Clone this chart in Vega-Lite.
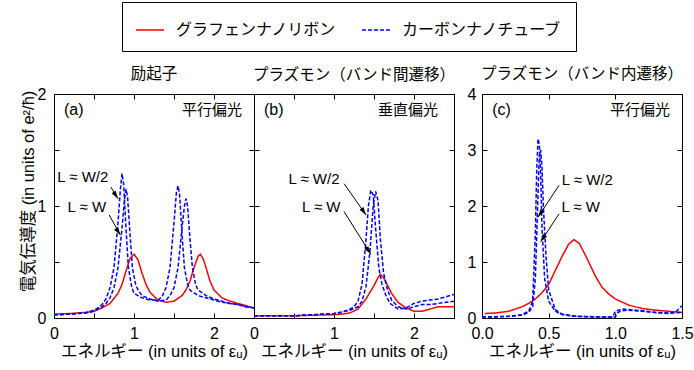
{
  "$schema": "https://vega.github.io/schema/vega-lite/v6.json",
  "background": "white",
  "padding": {"left": 19, "top": 1, "right": 3, "bottom": 3},
  "config": {
    "view": {"stroke": "black", "strokeWidth": 1},
    "axis": {"grid": false, "domain": false, "tickSize": -5, "tickColor": "black", "tickWidth": 1, "labelFlush": false,
      "labelFont": "Liberation Sans", "labelFontSize": 16, "labelColor": "black",
      "titleFont": "Liberation Sans, Noto Sans CJK JP", "titleFontSize": 16.5, "titleFontWeight": "normal", "titleColor": "black"},
    "axisX": {"labelPadding": 12, "titlePadding": 2},
    "axisY": {"labelPadding": 13, "titlePadding": 1, "titleY": 97},
    "title": {"font": "Noto Sans CJK JP", "fontSize": 15.5, "fontWeight": "normal", "color": "black", "anchor": "middle", "frame": "group"},
    "text": {"font": "Liberation Sans, Noto Sans CJK JP", "fontSize": 15, "color": "black"}
  },
  "datasets": {
    "curves": [
      {"panel":"a","curve":"r","series":"グラフェンナノリボン","x":0,"y":0.035},
      {"panel":"a","curve":"r","series":"グラフェンナノリボン","x":0.2,"y":0.04},
      {"panel":"a","curve":"r","series":"グラフェンナノリボン","x":0.4,"y":0.05},
      {"panel":"a","curve":"r","series":"グラフェンナノリボン","x":0.5,"y":0.06},
      {"panel":"a","curve":"r","series":"グラフェンナノリボン","x":0.6,"y":0.09},
      {"panel":"a","curve":"r","series":"グラフェンナノリボン","x":0.7,"y":0.13},
      {"panel":"a","curve":"r","series":"グラフェンナノリボン","x":0.8,"y":0.22},
      {"panel":"a","curve":"r","series":"グラフェンナノリボン","x":0.85,"y":0.3},
      {"panel":"a","curve":"r","series":"グラフェンナノリボン","x":0.9,"y":0.42},
      {"panel":"a","curve":"r","series":"グラフェンナノリボン","x":0.95,"y":0.53},
      {"panel":"a","curve":"r","series":"グラフェンナノリボン","x":1.0,"y":0.57},
      {"panel":"a","curve":"r","series":"グラフェンナノリボン","x":1.05,"y":0.52},
      {"panel":"a","curve":"r","series":"グラフェンナノリボン","x":1.1,"y":0.4},
      {"panel":"a","curve":"r","series":"グラフェンナノリボン","x":1.15,"y":0.3},
      {"panel":"a","curve":"r","series":"グラフェンナノリボン","x":1.2,"y":0.23},
      {"panel":"a","curve":"r","series":"グラフェンナノリボン","x":1.3,"y":0.16},
      {"panel":"a","curve":"r","series":"グラフェンナノリボン","x":1.4,"y":0.14},
      {"panel":"a","curve":"r","series":"グラフェンナノリボン","x":1.5,"y":0.15},
      {"panel":"a","curve":"r","series":"グラフェンナノリボン","x":1.6,"y":0.2},
      {"panel":"a","curve":"r","series":"グラフェンナノリボン","x":1.65,"y":0.25},
      {"panel":"a","curve":"r","series":"グラフェンナノリボン","x":1.7,"y":0.33},
      {"panel":"a","curve":"r","series":"グラフェンナノリボン","x":1.75,"y":0.45},
      {"panel":"a","curve":"r","series":"グラフェンナノリボン","x":1.8,"y":0.55},
      {"panel":"a","curve":"r","series":"グラフェンナノリボン","x":1.83,"y":0.57},
      {"panel":"a","curve":"r","series":"グラフェンナノリボン","x":1.87,"y":0.52},
      {"panel":"a","curve":"r","series":"グラフェンナノリボン","x":1.9,"y":0.45},
      {"panel":"a","curve":"r","series":"グラフェンナノリボン","x":1.95,"y":0.33},
      {"panel":"a","curve":"r","series":"グラフェンナノリボン","x":2.0,"y":0.25},
      {"panel":"a","curve":"r","series":"グラフェンナノリボン","x":2.1,"y":0.18},
      {"panel":"a","curve":"r","series":"グラフェンナノリボン","x":2.2,"y":0.15},
      {"panel":"a","curve":"r","series":"グラフェンナノリボン","x":2.3,"y":0.13},
      {"panel":"a","curve":"r","series":"グラフェンナノリボン","x":2.4,"y":0.11},
      {"panel":"a","curve":"r","series":"グラフェンナノリボン","x":2.5,"y":0.09},

      {"panel":"a","curve":"b1","series":"カーボンナノチューブ","x":0,"y":0.03},
      {"panel":"a","curve":"b1","series":"カーボンナノチューブ","x":0.1,"y":0.03},
      {"panel":"a","curve":"b1","series":"カーボンナノチューブ","x":0.2,"y":0.035},
      {"panel":"a","curve":"b1","series":"カーボンナノチューブ","x":0.3,"y":0.04},
      {"panel":"a","curve":"b1","series":"カーボンナノチューブ","x":0.4,"y":0.05},
      {"panel":"a","curve":"b1","series":"カーボンナノチューブ","x":0.5,"y":0.07},
      {"panel":"a","curve":"b1","series":"カーボンナノチューブ","x":0.55,"y":0.09},
      {"panel":"a","curve":"b1","series":"カーボンナノチューブ","x":0.6,"y":0.12},
      {"panel":"a","curve":"b1","series":"カーボンナノチューブ","x":0.65,"y":0.17},
      {"panel":"a","curve":"b1","series":"カーボンナノチューブ","x":0.7,"y":0.27},
      {"panel":"a","curve":"b1","series":"カーボンナノチューブ","x":0.75,"y":0.45},
      {"panel":"a","curve":"b1","series":"カーボンナノチューブ","x":0.8,"y":0.85},
      {"panel":"a","curve":"b1","series":"カーボンナノチューブ","x":0.83,"y":1.15},
      {"panel":"a","curve":"b1","series":"カーボンナノチューブ","x":0.85,"y":1.29},
      {"panel":"a","curve":"b1","series":"カーボンナノチューブ","x":0.87,"y":1.2},
      {"panel":"a","curve":"b1","series":"カーボンナノチューブ","x":0.9,"y":0.8},
      {"panel":"a","curve":"b1","series":"カーボンナノチューブ","x":0.93,"y":0.45},
      {"panel":"a","curve":"b1","series":"カーボンナノチューブ","x":0.97,"y":0.28},
      {"panel":"a","curve":"b1","series":"カーボンナノチューブ","x":1.0,"y":0.22},
      {"panel":"a","curve":"b1","series":"カーボンナノチューブ","x":1.05,"y":0.2},
      {"panel":"a","curve":"b1","series":"カーボンナノチューブ","x":1.1,"y":0.18},
      {"panel":"a","curve":"b1","series":"カーボンナノチューブ","x":1.2,"y":0.16},
      {"panel":"a","curve":"b1","series":"カーボンナノチューブ","x":1.3,"y":0.16},
      {"panel":"a","curve":"b1","series":"カーボンナノチューブ","x":1.35,"y":0.19},
      {"panel":"a","curve":"b1","series":"カーボンナノチューブ","x":1.4,"y":0.27},
      {"panel":"a","curve":"b1","series":"カーボンナノチューブ","x":1.45,"y":0.45},
      {"panel":"a","curve":"b1","series":"カーボンナノチューブ","x":1.5,"y":0.85},
      {"panel":"a","curve":"b1","series":"カーボンナノチューブ","x":1.53,"y":1.12},
      {"panel":"a","curve":"b1","series":"カーボンナノチューブ","x":1.55,"y":1.18},
      {"panel":"a","curve":"b1","series":"カーボンナノチューブ","x":1.57,"y":1.1},
      {"panel":"a","curve":"b1","series":"カーボンナノチューブ","x":1.6,"y":0.75},
      {"panel":"a","curve":"b1","series":"カーボンナノチューブ","x":1.63,"y":0.45},
      {"panel":"a","curve":"b1","series":"カーボンナノチューブ","x":1.67,"y":0.3},
      {"panel":"a","curve":"b1","series":"カーボンナノチューブ","x":1.7,"y":0.25},
      {"panel":"a","curve":"b1","series":"カーボンナノチューブ","x":1.8,"y":0.2},
      {"panel":"a","curve":"b1","series":"カーボンナノチューブ","x":1.9,"y":0.18},
      {"panel":"a","curve":"b1","series":"カーボンナノチューブ","x":2.0,"y":0.16},
      {"panel":"a","curve":"b1","series":"カーボンナノチューブ","x":2.1,"y":0.14},
      {"panel":"a","curve":"b1","series":"カーボンナノチューブ","x":2.2,"y":0.13},
      {"panel":"a","curve":"b1","series":"カーボンナノチューブ","x":2.3,"y":0.12},
      {"panel":"a","curve":"b1","series":"カーボンナノチューブ","x":2.4,"y":0.1},
      {"panel":"a","curve":"b1","series":"カーボンナノチューブ","x":2.5,"y":0.09},

      {"panel":"a","curve":"b2","series":"カーボンナノチューブ","x":0,"y":0.03},
      {"panel":"a","curve":"b2","series":"カーボンナノチューブ","x":0.2,"y":0.035},
      {"panel":"a","curve":"b2","series":"カーボンナノチューブ","x":0.4,"y":0.045},
      {"panel":"a","curve":"b2","series":"カーボンナノチューブ","x":0.5,"y":0.06},
      {"panel":"a","curve":"b2","series":"カーボンナノチューブ","x":0.6,"y":0.1},
      {"panel":"a","curve":"b2","series":"カーボンナノチューブ","x":0.65,"y":0.13},
      {"panel":"a","curve":"b2","series":"カーボンナノチューブ","x":0.7,"y":0.18},
      {"panel":"a","curve":"b2","series":"カーボンナノチューブ","x":0.75,"y":0.27},
      {"panel":"a","curve":"b2","series":"カーボンナノチューブ","x":0.8,"y":0.45},
      {"panel":"a","curve":"b2","series":"カーボンナノチューブ","x":0.85,"y":0.8},
      {"panel":"a","curve":"b2","series":"カーボンナノチューブ","x":0.88,"y":1.05},
      {"panel":"a","curve":"b2","series":"カーボンナノチューブ","x":0.9,"y":1.15},
      {"panel":"a","curve":"b2","series":"カーボンナノチューブ","x":0.92,"y":1.08},
      {"panel":"a","curve":"b2","series":"カーボンナノチューブ","x":0.95,"y":0.75},
      {"panel":"a","curve":"b2","series":"カーボンナノチューブ","x":0.98,"y":0.45},
      {"panel":"a","curve":"b2","series":"カーボンナノチューブ","x":1.02,"y":0.3},
      {"panel":"a","curve":"b2","series":"カーボンナノチューブ","x":1.05,"y":0.25},
      {"panel":"a","curve":"b2","series":"カーボンナノチューブ","x":1.1,"y":0.2},
      {"panel":"a","curve":"b2","series":"カーボンナノチューブ","x":1.2,"y":0.17},
      {"panel":"a","curve":"b2","series":"カーボンナノチューブ","x":1.3,"y":0.15},
      {"panel":"a","curve":"b2","series":"カーボンナノチューブ","x":1.4,"y":0.16},
      {"panel":"a","curve":"b2","series":"カーボンナノチューブ","x":1.45,"y":0.2},
      {"panel":"a","curve":"b2","series":"カーボンナノチューブ","x":1.5,"y":0.27},
      {"panel":"a","curve":"b2","series":"カーボンナノチューブ","x":1.55,"y":0.45},
      {"panel":"a","curve":"b2","series":"カーボンナノチューブ","x":1.6,"y":0.8},
      {"panel":"a","curve":"b2","series":"カーボンナノチューブ","x":1.63,"y":1.0},
      {"panel":"a","curve":"b2","series":"カーボンナノチューブ","x":1.65,"y":1.065},
      {"panel":"a","curve":"b2","series":"カーボンナノチューブ","x":1.67,"y":1.0},
      {"panel":"a","curve":"b2","series":"カーボンナノチューブ","x":1.7,"y":0.7},
      {"panel":"a","curve":"b2","series":"カーボンナノチューブ","x":1.73,"y":0.45},
      {"panel":"a","curve":"b2","series":"カーボンナノチューブ","x":1.77,"y":0.3},
      {"panel":"a","curve":"b2","series":"カーボンナノチューブ","x":1.8,"y":0.25},
      {"panel":"a","curve":"b2","series":"カーボンナノチューブ","x":1.9,"y":0.2},
      {"panel":"a","curve":"b2","series":"カーボンナノチューブ","x":2.0,"y":0.17},
      {"panel":"a","curve":"b2","series":"カーボンナノチューブ","x":2.1,"y":0.15},
      {"panel":"a","curve":"b2","series":"カーボンナノチューブ","x":2.2,"y":0.13},
      {"panel":"a","curve":"b2","series":"カーボンナノチューブ","x":2.3,"y":0.12},
      {"panel":"a","curve":"b2","series":"カーボンナノチューブ","x":2.4,"y":0.1},
      {"panel":"a","curve":"b2","series":"カーボンナノチューブ","x":2.5,"y":0.09},

      {"panel":"b","curve":"r","series":"グラフェンナノリボン","x":0,"y":0.02},
      {"panel":"b","curve":"r","series":"グラフェンナノリボン","x":0.5,"y":0.02},
      {"panel":"b","curve":"r","series":"グラフェンナノリボン","x":1.0,"y":0.03},
      {"panel":"b","curve":"r","series":"グラフェンナノリボン","x":1.1,"y":0.035},
      {"panel":"b","curve":"r","series":"グラフェンナノリボン","x":1.2,"y":0.045},
      {"panel":"b","curve":"r","series":"グラフェンナノリボン","x":1.3,"y":0.08},
      {"panel":"b","curve":"r","series":"グラフェンナノリボン","x":1.4,"y":0.17},
      {"panel":"b","curve":"r","series":"グラフェンナノリボン","x":1.5,"y":0.29},
      {"panel":"b","curve":"r","series":"グラフェンナノリボン","x":1.55,"y":0.36},
      {"panel":"b","curve":"r","series":"グラフェンナノリボン","x":1.58,"y":0.39},
      {"panel":"b","curve":"r","series":"グラフェンナノリボン","x":1.62,"y":0.36},
      {"panel":"b","curve":"r","series":"グラフェンナノリボン","x":1.67,"y":0.29},
      {"panel":"b","curve":"r","series":"グラフェンナノリボン","x":1.72,"y":0.22},
      {"panel":"b","curve":"r","series":"グラフェンナノリボン","x":1.8,"y":0.14},
      {"panel":"b","curve":"r","series":"グラフェンナノリボン","x":1.9,"y":0.09},
      {"panel":"b","curve":"r","series":"グラフェンナノリボン","x":2.0,"y":0.06},
      {"panel":"b","curve":"r","series":"グラフェンナノリボン","x":2.1,"y":0.06},
      {"panel":"b","curve":"r","series":"グラフェンナノリボン","x":2.2,"y":0.08},
      {"panel":"b","curve":"r","series":"グラフェンナノリボン","x":2.3,"y":0.1},
      {"panel":"b","curve":"r","series":"グラフェンナノリボン","x":2.4,"y":0.1},
      {"panel":"b","curve":"r","series":"グラフェンナノリボン","x":2.5,"y":0.1},

      {"panel":"b","curve":"b1","series":"カーボンナノチューブ","x":0,"y":0.02},
      {"panel":"b","curve":"b1","series":"カーボンナノチューブ","x":0.5,"y":0.02},
      {"panel":"b","curve":"b1","series":"カーボンナノチューブ","x":1.0,"y":0.04},
      {"panel":"b","curve":"b1","series":"カーボンナノチューブ","x":1.1,"y":0.05},
      {"panel":"b","curve":"b1","series":"カーボンナノチューブ","x":1.2,"y":0.08},
      {"panel":"b","curve":"b1","series":"カーボンナノチューブ","x":1.25,"y":0.1},
      {"panel":"b","curve":"b1","series":"カーボンナノチューブ","x":1.3,"y":0.15},
      {"panel":"b","curve":"b1","series":"カーボンナノチューブ","x":1.35,"y":0.3},
      {"panel":"b","curve":"b1","series":"カーボンナノチューブ","x":1.4,"y":0.7},
      {"panel":"b","curve":"b1","series":"カーボンナノチューブ","x":1.43,"y":1.0},
      {"panel":"b","curve":"b1","series":"カーボンナノチューブ","x":1.46,"y":1.14},
      {"panel":"b","curve":"b1","series":"カーボンナノチューブ","x":1.49,"y":1.1},
      {"panel":"b","curve":"b1","series":"カーボンナノチューブ","x":1.52,"y":0.8},
      {"panel":"b","curve":"b1","series":"カーボンナノチューブ","x":1.56,"y":0.45},
      {"panel":"b","curve":"b1","series":"カーボンナノチューブ","x":1.6,"y":0.3},
      {"panel":"b","curve":"b1","series":"カーボンナノチューブ","x":1.65,"y":0.2},
      {"panel":"b","curve":"b1","series":"カーボンナノチューブ","x":1.7,"y":0.13},
      {"panel":"b","curve":"b1","series":"カーボンナノチューブ","x":1.8,"y":0.08},
      {"panel":"b","curve":"b1","series":"カーボンナノチューブ","x":1.9,"y":0.09},
      {"panel":"b","curve":"b1","series":"カーボンナノチューブ","x":2.0,"y":0.13},
      {"panel":"b","curve":"b1","series":"カーボンナノチューブ","x":2.1,"y":0.15},
      {"panel":"b","curve":"b1","series":"カーボンナノチューブ","x":2.2,"y":0.16},
      {"panel":"b","curve":"b1","series":"カーボンナノチューブ","x":2.3,"y":0.17},
      {"panel":"b","curve":"b1","series":"カーボンナノチューブ","x":2.4,"y":0.19},
      {"panel":"b","curve":"b1","series":"カーボンナノチューブ","x":2.5,"y":0.21},

      {"panel":"b","curve":"b2","series":"カーボンナノチューブ","x":0,"y":0.02},
      {"panel":"b","curve":"b2","series":"カーボンナノチューブ","x":0.5,"y":0.02},
      {"panel":"b","curve":"b2","series":"カーボンナノチューブ","x":1.0,"y":0.04},
      {"panel":"b","curve":"b2","series":"カーボンナノチューブ","x":1.2,"y":0.07},
      {"panel":"b","curve":"b2","series":"カーボンナノチューブ","x":1.3,"y":0.1},
      {"panel":"b","curve":"b2","series":"カーボンナノチューブ","x":1.35,"y":0.15},
      {"panel":"b","curve":"b2","series":"カーボンナノチューブ","x":1.4,"y":0.28},
      {"panel":"b","curve":"b2","series":"カーボンナノチューブ","x":1.45,"y":0.6},
      {"panel":"b","curve":"b2","series":"カーボンナノチューブ","x":1.49,"y":1.0},
      {"panel":"b","curve":"b2","series":"カーボンナノチューブ","x":1.52,"y":1.13},
      {"panel":"b","curve":"b2","series":"カーボンナノチューブ","x":1.55,"y":1.05},
      {"panel":"b","curve":"b2","series":"カーボンナノチューブ","x":1.58,"y":0.7},
      {"panel":"b","curve":"b2","series":"カーボンナノチューブ","x":1.62,"y":0.4},
      {"panel":"b","curve":"b2","series":"カーボンナノチューブ","x":1.67,"y":0.25},
      {"panel":"b","curve":"b2","series":"カーボンナノチューブ","x":1.72,"y":0.16},
      {"panel":"b","curve":"b2","series":"カーボンナノチューブ","x":1.8,"y":0.1},
      {"panel":"b","curve":"b2","series":"カーボンナノチューブ","x":1.9,"y":0.08},
      {"panel":"b","curve":"b2","series":"カーボンナノチューブ","x":2.0,"y":0.1},
      {"panel":"b","curve":"b2","series":"カーボンナノチューブ","x":2.1,"y":0.12},
      {"panel":"b","curve":"b2","series":"カーボンナノチューブ","x":2.2,"y":0.12},
      {"panel":"b","curve":"b2","series":"カーボンナノチューブ","x":2.3,"y":0.13},
      {"panel":"b","curve":"b2","series":"カーボンナノチューブ","x":2.4,"y":0.14},
      {"panel":"b","curve":"b2","series":"カーボンナノチューブ","x":2.5,"y":0.15},

      {"panel":"c","curve":"r","series":"グラフェンナノリボン","x":0.02,"y":0.08},
      {"panel":"c","curve":"r","series":"グラフェンナノリボン","x":0.1,"y":0.09},
      {"panel":"c","curve":"r","series":"グラフェンナノリボン","x":0.2,"y":0.12},
      {"panel":"c","curve":"r","series":"グラフェンナノリボン","x":0.3,"y":0.2},
      {"panel":"c","curve":"r","series":"グラフェンナノリボン","x":0.35,"y":0.26},
      {"panel":"c","curve":"r","series":"グラフェンナノリボン","x":0.4,"y":0.34},
      {"panel":"c","curve":"r","series":"グラフェンナノリボン","x":0.45,"y":0.45},
      {"panel":"c","curve":"r","series":"グラフェンナノリボン","x":0.5,"y":0.6},
      {"panel":"c","curve":"r","series":"グラフェンナノリボン","x":0.55,"y":0.85},
      {"panel":"c","curve":"r","series":"グラフェンナノリボン","x":0.6,"y":1.1},
      {"panel":"c","curve":"r","series":"グラフェンナノリボン","x":0.65,"y":1.32},
      {"panel":"c","curve":"r","series":"グラフェンナノリボン","x":0.69,"y":1.4},
      {"panel":"c","curve":"r","series":"グラフェンナノリボン","x":0.73,"y":1.33},
      {"panel":"c","curve":"r","series":"グラフェンナノリボン","x":0.78,"y":1.1},
      {"panel":"c","curve":"r","series":"グラフェンナノリボン","x":0.85,"y":0.75},
      {"panel":"c","curve":"r","series":"グラフェンナノリボン","x":0.9,"y":0.55},
      {"panel":"c","curve":"r","series":"グラフェンナノリボン","x":0.95,"y":0.43},
      {"panel":"c","curve":"r","series":"グラフェンナノリボン","x":1.0,"y":0.34},
      {"panel":"c","curve":"r","series":"グラフェンナノリボン","x":1.1,"y":0.23},
      {"panel":"c","curve":"r","series":"グラフェンナノリボン","x":1.2,"y":0.17},
      {"panel":"c","curve":"r","series":"グラフェンナノリボン","x":1.3,"y":0.14},
      {"panel":"c","curve":"r","series":"グラフェンナノリボン","x":1.4,"y":0.12},
      {"panel":"c","curve":"r","series":"グラフェンナノリボン","x":1.5,"y":0.1},

      {"panel":"c","curve":"b1","series":"カーボンナノチューブ","x":0.0,"y":0.02},
      {"panel":"c","curve":"b1","series":"カーボンナノチューブ","x":0.1,"y":0.02},
      {"panel":"c","curve":"b1","series":"カーボンナノチューブ","x":0.2,"y":0.03},
      {"panel":"c","curve":"b1","series":"カーボンナノチューブ","x":0.3,"y":0.06},
      {"panel":"c","curve":"b1","series":"カーボンナノチューブ","x":0.35,"y":0.12},
      {"panel":"c","curve":"b1","series":"カーボンナノチューブ","x":0.38,"y":0.3},
      {"panel":"c","curve":"b1","series":"カーボンナノチューブ","x":0.4,"y":1.5},
      {"panel":"c","curve":"b1","series":"カーボンナノチューブ","x":0.41,"y":2.6},
      {"panel":"c","curve":"b1","series":"カーボンナノチューブ","x":0.42,"y":3.2},
      {"panel":"c","curve":"b1","series":"カーボンナノチューブ","x":0.43,"y":3.1},
      {"panel":"c","curve":"b1","series":"カーボンナノチューブ","x":0.44,"y":2.6},
      {"panel":"c","curve":"b1","series":"カーボンナノチューブ","x":0.45,"y":1.6},
      {"panel":"c","curve":"b1","series":"カーボンナノチューブ","x":0.47,"y":0.7},
      {"panel":"c","curve":"b1","series":"カーボンナノチューブ","x":0.5,"y":0.3},
      {"panel":"c","curve":"b1","series":"カーボンナノチューブ","x":0.55,"y":0.12},
      {"panel":"c","curve":"b1","series":"カーボンナノチューブ","x":0.6,"y":0.06},
      {"panel":"c","curve":"b1","series":"カーボンナノチューブ","x":0.7,"y":0.03},
      {"panel":"c","curve":"b1","series":"カーボンナノチューブ","x":0.8,"y":0.02},
      {"panel":"c","curve":"b1","series":"カーボンナノチューブ","x":0.9,"y":0.02},
      {"panel":"c","curve":"b1","series":"カーボンナノチューブ","x":0.98,"y":0.02},
      {"panel":"c","curve":"b1","series":"カーボンナノチューブ","x":1.0,"y":0.12},
      {"panel":"c","curve":"b1","series":"カーボンナノチューブ","x":1.05,"y":0.16},
      {"panel":"c","curve":"b1","series":"カーボンナノチューブ","x":1.1,"y":0.15},
      {"panel":"c","curve":"b1","series":"カーボンナノチューブ","x":1.2,"y":0.13},
      {"panel":"c","curve":"b1","series":"カーボンナノチューブ","x":1.3,"y":0.1},
      {"panel":"c","curve":"b1","series":"カーボンナノチューブ","x":1.4,"y":0.08},
      {"panel":"c","curve":"b1","series":"カーボンナノチューブ","x":1.45,"y":0.1},
      {"panel":"c","curve":"b1","series":"カーボンナノチューブ","x":1.5,"y":0.22},

      {"panel":"c","curve":"b2","series":"カーボンナノチューブ","x":0.0,"y":0.02},
      {"panel":"c","curve":"b2","series":"カーボンナノチューブ","x":0.2,"y":0.03},
      {"panel":"c","curve":"b2","series":"カーボンナノチューブ","x":0.3,"y":0.05},
      {"panel":"c","curve":"b2","series":"カーボンナノチューブ","x":0.35,"y":0.1},
      {"panel":"c","curve":"b2","series":"カーボンナノチューブ","x":0.38,"y":0.2},
      {"panel":"c","curve":"b2","series":"カーボンナノチューブ","x":0.4,"y":0.7},
      {"panel":"c","curve":"b2","series":"カーボンナノチューブ","x":0.42,"y":2.2},
      {"panel":"c","curve":"b2","series":"カーボンナノチューブ","x":0.43,"y":2.9},
      {"panel":"c","curve":"b2","series":"カーボンナノチューブ","x":0.44,"y":3.0},
      {"panel":"c","curve":"b2","series":"カーボンナノチューブ","x":0.45,"y":2.7},
      {"panel":"c","curve":"b2","series":"カーボンナノチューブ","x":0.46,"y":2.0},
      {"panel":"c","curve":"b2","series":"カーボンナノチューブ","x":0.48,"y":1.1},
      {"panel":"c","curve":"b2","series":"カーボンナノチューブ","x":0.5,"y":0.5},
      {"panel":"c","curve":"b2","series":"カーボンナノチューブ","x":0.55,"y":0.15},
      {"panel":"c","curve":"b2","series":"カーボンナノチューブ","x":0.6,"y":0.07},
      {"panel":"c","curve":"b2","series":"カーボンナノチューブ","x":0.7,"y":0.03},
      {"panel":"c","curve":"b2","series":"カーボンナノチューブ","x":0.9,"y":0.02},
      {"panel":"c","curve":"b2","series":"カーボンナノチューブ","x":1.0,"y":0.02},
      {"panel":"c","curve":"b2","series":"カーボンナノチューブ","x":1.02,"y":0.1},
      {"panel":"c","curve":"b2","series":"カーボンナノチューブ","x":1.05,"y":0.13},
      {"panel":"c","curve":"b2","series":"カーボンナノチューブ","x":1.1,"y":0.14},
      {"panel":"c","curve":"b2","series":"カーボンナノチューブ","x":1.2,"y":0.12},
      {"panel":"c","curve":"b2","series":"カーボンナノチューブ","x":1.3,"y":0.1},
      {"panel":"c","curve":"b2","series":"カーボンナノチューブ","x":1.4,"y":0.09},
      {"panel":"c","curve":"b2","series":"カーボンナノチューブ","x":1.5,"y":0.1}
    ],
    "arrows": [
      {"panel":"a","x":0.71,"y":1.17,"x2":0.80,"y2":1.065},
      {"panel":"a","x":0.69,"y":0.92,"x2":0.83,"y2":0.74},
      {"panel":"b","x":1.125,"y":1.2,"x2":1.40,"y2":0.92},
      {"panel":"b","x":1.125,"y":0.95,"x2":1.46,"y2":0.57},
      {"panel":"c","x":0.578,"y":2.37,"x2":0.42,"y2":1.80},
      {"panel":"c","x":0.578,"y":1.86,"x2":0.44,"y2":1.36}
    ],
    "notes": [
      {"panel":"a","x":0.36,"y":1.26,"text":"L ≈ W/2"},
      {"panel":"a","x":0.41,"y":0.99,"text":"L ≈ W"},
      {"panel":"b","x":0.75,"y":1.24,"text":"L ≈ W/2"},
      {"panel":"b","x":0.84,"y":0.99,"text":"L ≈ W"},
      {"panel":"c","x":0.79,"y":2.46,"text":"L ≈ W/2"},
      {"panel":"c","x":0.74,"y":1.98,"text":"L ≈ W"}
    ],
    "tags": [
      {"panel":"a","x":0.125,"y":1.86,"text":"(a)"},
      {"panel":"b","x":0.125,"y":1.86,"text":"(b)"},
      {"panel":"c","x":0.077,"y":3.72,"text":"(c)"}
    ],
    "pols": [
      {"panel":"a","x":2.35,"y":1.86,"text":"平行偏光"},
      {"panel":"b","x":2.3,"y":1.86,"text":"垂直偏光"},
      {"panel":"c","x":1.41,"y":3.72,"text":"平行偏光"}
    ]
  },
  "resolve": {"scale": {"color": "shared", "strokeDash": "shared"}, "legend": {"color": "shared", "strokeDash": "shared"}},
  "spacing": 10,
  "hconcat": [
    {
      "spacing": 0,
      "bounds": "flush",
      "resolve": {"scale": {"color": "shared", "strokeDash": "shared"}, "legend": {"color": "shared", "strokeDash": "shared"}},
      "hconcat": [
        {
          "width": 200, "height": 224,
          "title": {"text": "励起子", "offset": 4},
          "resolve": {"axis": {"x": "independent", "y": "independent"}},
          "layer": [
            {
              "data": {"name": "curves"},
              "transform": [{"filter": "datum.panel == 'a'"}],
              "mark": {"type": "line", "strokeWidth": 1.5, "clip": true},
              "encoding": {
                "x": {"field": "x", "type": "quantitative", "scale": {"domain": [0, 2.5], "nice": false},
                  "axis": {"values": [0, 0.5, 1, 1.5, 2, 2.5], "labelExpr": "datum.value % 1 == 0 ? format(datum.value, 'd') : ''", "title": "エネルギー (in units of εᵤ)"}},
                "y": {"field": "y", "type": "quantitative", "scale": {"domain": [0, 2], "nice": false},
                  "axis": {"values": [0, 0.5, 1, 1.5, 2], "labelExpr": "datum.value % 1 == 0 ? format(datum.value, 'd') : ''", "title": "電気伝導度 (in units of e²/ħ)"}},
                "color": {"field": "series", "type": "nominal",
                  "scale": {"domain": ["グラフェンナノリボン", "カーボンナノチューブ"], "range": ["#ff0000", "#0000ff"]},
                  "legend": {"orient": "none", "legendX": 68, "legendY": -92, "direction": "horizontal", "title": null,
                    "strokeColor": "black", "fillColor": "white", "padding": 13, "labelFont": "Noto Sans CJK JP", "labelFontSize": 16, "labelColor": "black", "labelLimit": 400,
                    "symbolType": "stroke", "symbolSize": 784, "symbolStrokeWidth": 1.5, "columnPadding": 22, "labelOffset": 11}},
                "strokeDash": {"field": "series", "type": "nominal",
                  "scale": {"domain": ["グラフェンナノリボン", "カーボンナノチューブ"], "range": [[1, 0], [4, 2]]},
                  "legend": {"orient": "none", "legendX": 68, "legendY": -92, "direction": "horizontal", "title": null,
                    "strokeColor": "black", "fillColor": "white", "padding": 13, "labelFont": "Noto Sans CJK JP", "labelFontSize": 16, "labelColor": "black", "labelLimit": 400,
                    "symbolType": "stroke", "symbolSize": 784, "symbolStrokeWidth": 1.5, "columnPadding": 22, "labelOffset": 11}},
                "detail": {"field": "curve"}
              }
            },
            {
              "data": {"name": "arrows"},
              "transform": [{"filter": "datum.panel == 'a'"}],
              "mark": {"type": "rule", "color": "black", "strokeWidth": 1},
              "encoding": {
                "x": {"field": "x", "type": "quantitative", "axis": null}, "x2": {"field": "x2"},
                "y": {"field": "y", "type": "quantitative", "axis": null}, "y2": {"field": "y2"}
              }
            },
            {
              "data": {"name": "arrows"},
              "transform": [{"filter": "datum.panel == 'a'"}],
              "mark": {"type": "point", "shape": "M0,0L-0.3,-1L0.3,-1Z", "filled": true, "color": "black", "size": 256, "angle": 327, "opacity": 1},
              "encoding": {
                "x": {"field": "x2", "type": "quantitative", "axis": null},
                "y": {"field": "y2", "type": "quantitative", "axis": null}
              }
            },
            {
              "data": {"name": "notes"},
              "transform": [{"filter": "datum.panel == 'a'"}],
              "mark": {"type": "text", "align": "center", "baseline": "middle"},
              "encoding": {
                "x": {"field": "x", "type": "quantitative", "axis": null},
                "y": {"field": "y", "type": "quantitative", "axis": null},
                "text": {"field": "text"}
              }
            },
            {
              "data": {"name": "tags"},
              "transform": [{"filter": "datum.panel == 'a'"}],
              "mark": {"type": "text", "align": "left", "baseline": "middle", "fontSize": 16},
              "encoding": {
                "x": {"field": "x", "type": "quantitative", "axis": {"orient": "top", "values": [0, 0.5, 1, 1.5, 2, 2.5], "labels": false, "title": null}},
                "y": {"field": "y", "type": "quantitative", "axis": {"orient": "right", "values": [0, 0.5, 1, 1.5, 2], "labels": false, "title": null}},
                "text": {"field": "text"}
              }
            },
            {
              "data": {"name": "pols"},
              "transform": [{"filter": "datum.panel == 'a'"}],
              "mark": {"type": "text", "align": "right", "baseline": "middle", "font": "Noto Sans CJK JP"},
              "encoding": {
                "x": {"field": "x", "type": "quantitative", "axis": null},
                "y": {"field": "y", "type": "quantitative", "axis": null},
                "text": {"field": "text"}
              }
            }
          ]
        },
        {
          "width": 200, "height": 224,
          "title": {"text": "プラズモン（バンド間遷移）", "offset": 10},
          "resolve": {"axis": {"x": "independent", "y": "independent"}},
          "layer": [
            {
              "data": {"name": "curves"},
              "transform": [{"filter": "datum.panel == 'b'"}],
              "mark": {"type": "line", "strokeWidth": 1.5, "clip": true},
              "encoding": {
                "x": {"field": "x", "type": "quantitative", "scale": {"domain": [0, 2.5], "nice": false},
                  "axis": {"values": [0, 0.5, 1, 1.5, 2, 2.5], "labelExpr": "datum.value % 1 == 0 ? format(datum.value, 'd') : ''", "title": "エネルギー (in units of εᵤ)"}},
                "y": {"field": "y", "type": "quantitative", "scale": {"domain": [0, 2], "nice": false},
                  "axis": {"values": [0, 0.5, 1, 1.5, 2], "labels": false, "title": null}},
                "color": {"field": "series", "type": "nominal",
                  "scale": {"domain": ["グラフェンナノリボン", "カーボンナノチューブ"], "range": ["#ff0000", "#0000ff"]}},
                "strokeDash": {"field": "series", "type": "nominal",
                  "scale": {"domain": ["グラフェンナノリボン", "カーボンナノチューブ"], "range": [[1, 0], [4, 2]]}},
                "detail": {"field": "curve"}
              }
            },
            {
              "data": {"name": "arrows"},
              "transform": [{"filter": "datum.panel == 'b'"}],
              "mark": {"type": "rule", "color": "black", "strokeWidth": 1},
              "encoding": {
                "x": {"field": "x", "type": "quantitative", "axis": null}, "x2": {"field": "x2"},
                "y": {"field": "y", "type": "quantitative", "axis": null}, "y2": {"field": "y2"}
              }
            },
            {
              "data": {"name": "arrows"},
              "transform": [{"filter": "datum.panel == 'b'"}],
              "mark": {"type": "point", "shape": "M0,0L-0.3,-1L0.3,-1Z", "filled": true, "color": "black", "size": 256, "angle": 326, "opacity": 1},
              "encoding": {
                "x": {"field": "x2", "type": "quantitative", "axis": null},
                "y": {"field": "y2", "type": "quantitative", "axis": null}
              }
            },
            {
              "data": {"name": "notes"},
              "transform": [{"filter": "datum.panel == 'b'"}],
              "mark": {"type": "text", "align": "center", "baseline": "middle"},
              "encoding": {
                "x": {"field": "x", "type": "quantitative", "axis": null},
                "y": {"field": "y", "type": "quantitative", "axis": null},
                "text": {"field": "text"}
              }
            },
            {
              "data": {"name": "tags"},
              "transform": [{"filter": "datum.panel == 'b'"}],
              "mark": {"type": "text", "align": "left", "baseline": "middle", "fontSize": 16},
              "encoding": {
                "x": {"field": "x", "type": "quantitative", "axis": {"orient": "top", "values": [0, 0.5, 1, 1.5, 2, 2.5], "labels": false, "title": null}},
                "y": {"field": "y", "type": "quantitative", "axis": {"orient": "right", "values": [0, 0.5, 1, 1.5, 2], "labels": false, "title": null}},
                "text": {"field": "text"}
              }
            },
            {
              "data": {"name": "pols"},
              "transform": [{"filter": "datum.panel == 'b'"}],
              "mark": {"type": "text", "align": "right", "baseline": "middle", "font": "Noto Sans CJK JP"},
              "encoding": {
                "x": {"field": "x", "type": "quantitative", "axis": null},
                "y": {"field": "y", "type": "quantitative", "axis": null},
                "text": {"field": "text"}
              }
            }
          ]
        }
      ]
    },
    {
      "width": 200, "height": 224,
      "title": {"text": "プラズモン（バンド内遷移）", "offset": 4},
      "resolve": {"axis": {"x": "independent", "y": "independent"}},
      "layer": [
        {
          "data": {"name": "curves"},
          "transform": [{"filter": "datum.panel == 'c'"}],
          "mark": {"type": "line", "strokeWidth": 1.5, "clip": true},
          "encoding": {
            "x": {"field": "x", "type": "quantitative", "scale": {"domain": [0, 1.5], "nice": false},
              "axis": {"values": [0, 0.5, 1, 1.5], "format": ".1f", "title": "エネルギー (in units of εᵤ)"}},
            "y": {"field": "y", "type": "quantitative", "scale": {"domain": [0, 4], "nice": false},
              "axis": {"values": [0, 1, 2, 3, 4], "format": "d", "title": null, "labelPadding": 11}},
            "color": {"field": "series", "type": "nominal",
              "scale": {"domain": ["グラフェンナノリボン", "カーボンナノチューブ"], "range": ["#ff0000", "#0000ff"]}},
            "strokeDash": {"field": "series", "type": "nominal",
              "scale": {"domain": ["グラフェンナノリボン", "カーボンナノチューブ"], "range": [[1, 0], [4, 2]]}},
            "detail": {"field": "curve"}
          }
        },
        {
          "data": {"name": "arrows"},
          "transform": [{"filter": "datum.panel == 'c'"}],
          "mark": {"type": "rule", "color": "black", "strokeWidth": 1},
          "encoding": {
            "x": {"field": "x", "type": "quantitative", "axis": null}, "x2": {"field": "x2"},
            "y": {"field": "y", "type": "quantitative", "axis": null}, "y2": {"field": "y2"}
          }
        },
        {
          "data": {"name": "arrows"},
          "transform": [{"filter": "datum.panel == 'c'"}],
          "mark": {"type": "point", "shape": "M0,0L-0.3,-1L0.3,-1Z", "filled": true, "color": "black", "size": 256, "angle": 33, "opacity": 1},
          "encoding": {
            "x": {"field": "x2", "type": "quantitative", "axis": null},
            "y": {"field": "y2", "type": "quantitative", "axis": null}
          }
        },
        {
          "data": {"name": "notes"},
          "transform": [{"filter": "datum.panel == 'c'"}],
          "mark": {"type": "text", "align": "center", "baseline": "middle"},
          "encoding": {
            "x": {"field": "x", "type": "quantitative", "axis": null},
            "y": {"field": "y", "type": "quantitative", "axis": null},
            "text": {"field": "text"}
          }
        },
        {
          "data": {"name": "tags"},
          "transform": [{"filter": "datum.panel == 'c'"}],
          "mark": {"type": "text", "align": "left", "baseline": "middle", "fontSize": 16},
          "encoding": {
            "x": {"field": "x", "type": "quantitative", "axis": {"orient": "top", "values": [0, 0.5, 1, 1.5], "labels": false, "title": null}},
            "y": {"field": "y", "type": "quantitative", "axis": {"orient": "right", "values": [0, 1, 2, 3, 4], "labels": false, "title": null}},
            "text": {"field": "text"}
          }
        },
        {
          "data": {"name": "pols"},
          "transform": [{"filter": "datum.panel == 'c'"}],
          "mark": {"type": "text", "align": "right", "baseline": "middle", "font": "Noto Sans CJK JP"},
          "encoding": {
            "x": {"field": "x", "type": "quantitative", "axis": null},
            "y": {"field": "y", "type": "quantitative", "axis": null},
            "text": {"field": "text"}
          }
        }
      ]
    }
  ]
}
